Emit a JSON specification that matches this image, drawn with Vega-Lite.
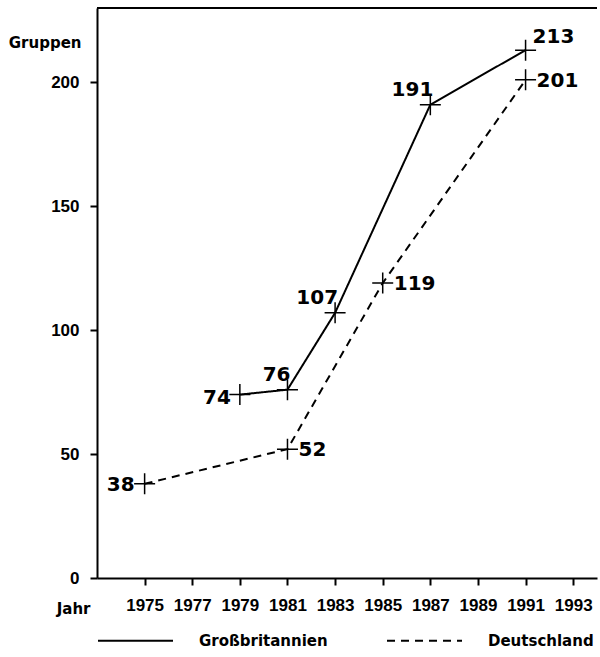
{
  "$schema": "https://vega.github.io/schema/vega-lite/v6.json",
  "autosize": {"type": "none"},
  "padding": {"left": 97, "top": 8, "right": 3, "bottom": 79},
  "width": 500,
  "height": 570,
  "background": "white",
  "config": {
    "view": {"stroke": null},
    "font": "DejaVu Sans",
    "axis": {"domainColor": "black", "domainWidth": 2, "tickColor": "black", "tickWidth": 2, "grid": false,
      "labelFont": "Liberation Sans", "labelFontWeight": "bold", "labelColor": "black", "labelFontSize": 17,
      "titleFont": "DejaVu Sans", "titleFontWeight": "bold", "titleColor": "black", "titleFontSize": 15}
  },
  "data": {"values": [
    {"land": "Großbritannien", "jahr": 1979, "gruppen": 74},
    {"land": "Großbritannien", "jahr": 1981, "gruppen": 76},
    {"land": "Großbritannien", "jahr": 1983, "gruppen": 107},
    {"land": "Großbritannien", "jahr": 1987, "gruppen": 191},
    {"land": "Großbritannien", "jahr": 1991, "gruppen": 213},
    {"land": "Deutschland", "jahr": 1975, "gruppen": 38},
    {"land": "Deutschland", "jahr": 1981, "gruppen": 52},
    {"land": "Deutschland", "jahr": 1985, "gruppen": 119},
    {"land": "Deutschland", "jahr": 1991, "gruppen": 201}
  ]},
  "encoding": {
    "x": {"field": "jahr", "type": "quantitative",
      "scale": {"domain": [1973, 1994], "nice": false, "zero": false},
      "axis": {"title": "Jahr", "values": [1975,1977,1979,1981,1983,1985,1987,1989,1991,1993], "format": "d",
        "labelFontSize": 17, "tickSize": 7, "labelPadding": 12, "labelFlush": false,
        "titleFontSize": 15, "titleAnchor": "start", "titleAlign": "right", "titleBaseline": "middle", "titleX": -7, "titleY": 30}},
    "y": {"field": "gruppen", "type": "quantitative",
      "scale": {"domain": [0, 230], "nice": false},
      "axis": {"title": "Gruppen", "values": [0, 50, 100, 150, 200], "labelFontSize": 17, "tickSize": 7, "labelPadding": 11,
        "titleFontSize": 15, "titleAngle": 0, "titleAlign": "right", "titleBaseline": "middle", "titleAnchor": "end", "titleX": -16, "titleY": 34}}
  },
  "layer": [
    {
      "mark": {"type": "rule", "strokeWidth": 2, "color": "black"},
      "encoding": {"x": null, "y": {"datum": 230, "type": "quantitative"}}
    },
    {
      "mark": {"type": "line", "color": "black", "strokeWidth": 2},
      "encoding": {
        "strokeDash": {"field": "land", "type": "nominal",
          "scale": {"domain": ["Großbritannien", "Deutschland"], "range": [[1, 0], [8, 6]]},
          "legend": {"title": null, "orient": "bottom", "direction": "horizontal", "symbolType": "stroke",
            "symbolSize": 5625, "symbolStrokeWidth": 2, "symbolStrokeColor": "black", "labelFont": "DejaVu Sans",
            "labelFontWeight": "bold", "labelFontSize": 15, "labelColor": "black", "labelOffset": 25,
            "columnPadding": 55, "offset": -14}}
      }
    },
    {
      "mark": {"type": "point", "shape": "M-1,0L1,0M0,-1L0,1", "filled": false, "stroke": "black", "strokeWidth": 1.5, "size": 441, "opacity": 1}
    },
    {
      "transform": [{"filter": "datum.land == 'Deutschland' && datum.jahr != 1975"}],
      "mark": {"type": "text", "align": "left", "baseline": "middle", "dx": 11, "dy": 1, "fontSize": 20, "fontWeight": "bold", "color": "black"},
      "encoding": {"text": {"field": "gruppen", "type": "quantitative"}}
    },
    {
      "transform": [{"filter": "datum.land == 'Deutschland' && datum.jahr == 1975"}],
      "mark": {"type": "text", "align": "right", "baseline": "middle", "dx": -10, "dy": 1, "fontSize": 20, "fontWeight": "bold", "color": "black"},
      "encoding": {"text": {"field": "gruppen", "type": "quantitative"}}
    },
    {
      "transform": [{"filter": "datum.land == 'Großbritannien' && datum.jahr == 1979"}],
      "mark": {"type": "text", "align": "right", "baseline": "middle", "dx": -9, "dy": 3, "fontSize": 20, "fontWeight": "bold", "color": "black"},
      "encoding": {"text": {"field": "gruppen", "type": "quantitative"}}
    },
    {
      "transform": [{"filter": "datum.land == 'Großbritannien' && datum.jahr > 1979 && datum.jahr < 1991"}],
      "mark": {"type": "text", "align": "right", "baseline": "bottom", "dx": 3, "dy": -5, "fontSize": 20, "fontWeight": "bold", "color": "black"},
      "encoding": {"text": {"field": "gruppen", "type": "quantitative"}}
    },
    {
      "transform": [{"filter": "datum.land == 'Großbritannien' && datum.jahr == 1991"}],
      "mark": {"type": "text", "align": "left", "baseline": "bottom", "dx": 7, "dy": -3, "fontSize": 20, "fontWeight": "bold", "color": "black"},
      "encoding": {"text": {"field": "gruppen", "type": "quantitative"}}
    }
  ]
}
